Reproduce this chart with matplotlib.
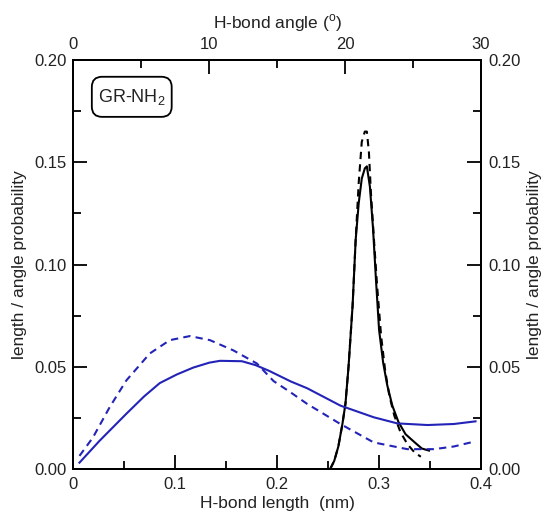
import matplotlib
matplotlib.use("Agg")
import matplotlib.pyplot as plt
from matplotlib.ticker import MultipleLocator
from matplotlib.patches import FancyBboxPatch

plt.rcParams['font.family'] = ['Liberation Sans', 'DejaVu Sans']
plt.rcParams['mathtext.fontset'] = 'custom'
plt.rcParams['mathtext.rm'] = 'Liberation Sans'
plt.rcParams['text.color'] = '#222222'
plt.rcParams['xtick.labelcolor'] = '#222222'
plt.rcParams['ytick.labelcolor'] = '#222222'
plt.rcParams['axes.labelcolor'] = '#222222'

# H-bond length distributions (nm) - black
len_x_solid = [0.252, 0.256, 0.260, 0.264, 0.267, 0.270, 0.274, 0.277, 0.280, 0.283,
               0.286, 0.288, 0.291, 0.294, 0.297, 0.300, 0.304, 0.308, 0.313, 0.319,
               0.326, 0.335, 0.342, 0.349]
len_y_solid = [0.000, 0.004, 0.011, 0.022, 0.032, 0.050, 0.080, 0.112, 0.130, 0.142,
               0.147, 0.148, 0.138, 0.118, 0.092, 0.068, 0.052, 0.041, 0.031, 0.023,
               0.017, 0.013, 0.010, 0.009]
len_x_dash = [0.252, 0.256, 0.260, 0.264, 0.267, 0.270, 0.274, 0.277, 0.280, 0.283,
              0.286, 0.288, 0.290, 0.292, 0.295, 0.298, 0.302, 0.306, 0.310, 0.315,
              0.321, 0.328, 0.335, 0.341]
len_y_dash = [0.000, 0.004, 0.011, 0.022, 0.032, 0.050, 0.080, 0.112, 0.140, 0.160,
              0.165, 0.165, 0.155, 0.135, 0.112, 0.090, 0.065, 0.048, 0.036, 0.026,
              0.018, 0.012, 0.008, 0.006]

# H-bond angle distributions (degrees) - blue
ang_x_solid = [0.44, 1.92, 3.89, 5.2, 6.35, 7.6, 8.82, 10.0, 10.79, 12.4, 13.4, 14.4,
               16.0, 17.2, 19.65, 22.1, 23.84, 26.06, 28.0, 29.6]
ang_y_solid = [0.0031, 0.0138, 0.027, 0.0355, 0.0420, 0.0462, 0.0496, 0.0520, 0.0529,
               0.0527, 0.0508, 0.0480, 0.0428, 0.0395, 0.0310, 0.0253, 0.0223, 0.0215,
               0.0220, 0.0233]
ang_x_dash = [0.44, 1.43, 2.66, 3.89, 5.62, 7.09, 8.57, 10.05, 11.77, 13.5, 14.73,
              15.96, 17.19, 19.65, 22.1, 24.58, 26.55, 28.0, 29.26]
ang_y_dash = [0.0064, 0.0154, 0.0302, 0.0433, 0.0565, 0.063, 0.065, 0.063, 0.058,
              0.0516, 0.0430, 0.0376, 0.0319, 0.022, 0.013, 0.0097, 0.0097, 0.0110, 0.013]

blue = '#2323b8'
dash = (0, (3.5, 2.5))

fig = plt.figure(figsize=(5.44, 5.16), dpi=100)
ax = fig.add_axes([0.1351, 0.0911, 0.749, 0.7926])

ax.plot(len_x_solid, len_y_solid, color='black', lw=1.5)
ax.plot(len_x_dash, len_y_dash, color='black', lw=1.5, ls=dash)
ax.set_xlim(0, 0.4)
ax.set_ylim(0, 0.20)

axt = ax.twiny()
axt.plot(ang_x_solid, ang_y_solid, color=blue, lw=1.5)
axt.plot(ang_x_dash, ang_y_dash, color=blue, lw=1.5, ls=dash)
axt.set_xlim(0, 30)
axt.set_ylim(0, 0.20)

axr = ax.twinx()
axr.set_ylim(0, 0.20)

for a in (ax, axt, axr):
    for s in a.spines.values():
        s.set_linewidth(1.3)

ax.xaxis.set_major_locator(MultipleLocator(0.1))
ax.xaxis.set_minor_locator(MultipleLocator(0.05))
ax.yaxis.set_major_locator(MultipleLocator(0.05))
ax.yaxis.set_minor_locator(MultipleLocator(0.025))
axr.yaxis.set_major_locator(MultipleLocator(0.05))
axr.yaxis.set_minor_locator(MultipleLocator(0.025))
axt.xaxis.set_major_locator(MultipleLocator(10))
axt.xaxis.set_minor_locator(MultipleLocator(5))

ax.xaxis.set_major_formatter(plt.FuncFormatter(lambda v, p: '0' if v == 0 else f'{v:.1f}'))
ax.yaxis.set_major_formatter(plt.FuncFormatter(lambda v, p: f'{v:.2f}'))
axr.yaxis.set_major_formatter(plt.FuncFormatter(lambda v, p: f'{v:.2f}'))
axt.xaxis.set_major_formatter(plt.FuncFormatter(lambda v, p: f'{v:.0f}'))

fs_tick = 12
ax.tick_params(axis='x', which='major', direction='in', length=10, width=1.3,
               labelsize=fs_tick, pad=6)
ax.tick_params(axis='y', which='major', direction='in', length=10, width=1.3,
               labelsize=fs_tick, pad=5)
ax.tick_params(axis='both', which='minor', direction='in', length=5.5, width=1.3)
ax.tick_params(axis='x', top=False)
axt.tick_params(axis='x', which='major', direction='in', length=10, width=1.3,
                labelsize=fs_tick, pad=6)
axt.tick_params(axis='x', which='minor', direction='in', length=5.5, width=1.3)
axr.tick_params(axis='y', which='major', direction='in', length=10, width=1.3,
                labelsize=fs_tick, pad=5)
axr.tick_params(axis='y', which='minor', direction='in', length=5.5, width=1.3)

fs_lab = 12.5
ax.set_xlabel('H-bond length  (nm)', fontsize=fs_lab, labelpad=3)
ax.set_ylabel('length / angle probability', fontsize=fs_lab, labelpad=5)
axr.set_ylabel('length / angle probability', fontsize=fs_lab, labelpad=5, rotation=90)
axt.set_xlabel(r'H-bond angle ($^\mathrm{o}$)', fontsize=fs_lab, labelpad=6)

box = FancyBboxPatch((0.045, 0.861), 0.196, 0.098, transform=ax.transAxes,
                     boxstyle='round,pad=0,rounding_size=0.025',
                     fc='white', ec='black', lw=1.3, zorder=5)
ax.add_patch(box)
ax.text(0.143, 0.910, r'GR-NH$_2$', transform=ax.transAxes, fontsize=13,
        ha='center', va='center', zorder=6)

fig.savefig('out.png', dpi=100)
